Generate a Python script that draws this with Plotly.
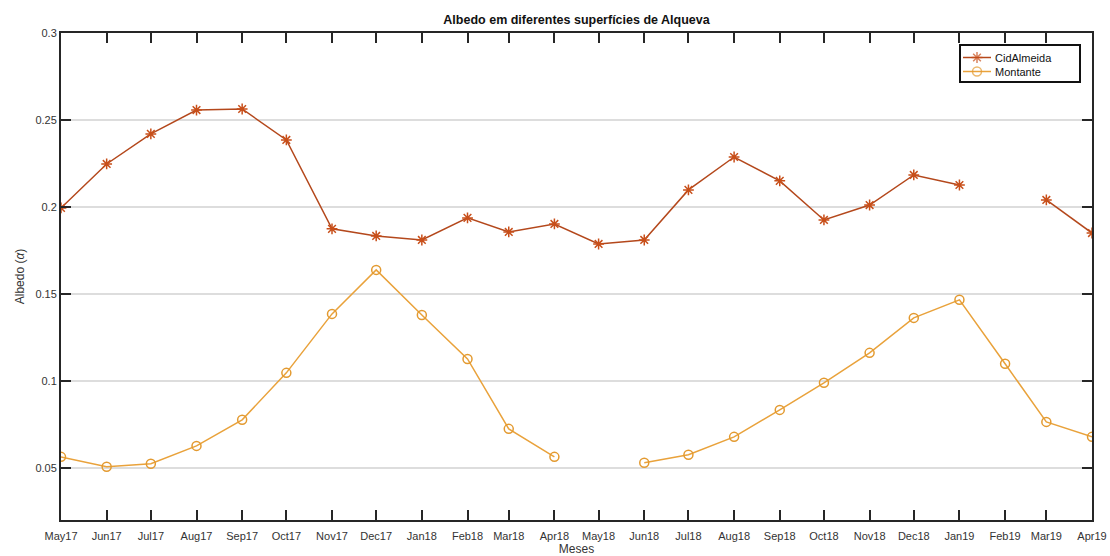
import plotly.graph_objects as go

months = ["2017-05-01", "2017-06-01", "2017-07-01", "2017-08-01", "2017-09-01",
          "2017-10-01", "2017-11-01", "2017-12-01", "2018-01-01", "2018-02-01",
          "2018-03-01", "2018-04-01", "2018-05-01", "2018-06-01", "2018-07-01",
          "2018-08-01", "2018-09-01", "2018-10-01", "2018-11-01", "2018-12-01",
          "2019-01-01", "2019-02-01", "2019-03-01", "2019-04-01"]

cid_almeida = [0.1994, 0.2247, 0.2420, 0.2557, 0.2563, 0.2385, 0.1874, 0.1833,
               0.1810, 0.1937, 0.1856, 0.1902, 0.1787, 0.1810, 0.2098, 0.2287,
               0.2150, 0.1925, 0.2011, 0.2184, 0.2126, None, 0.2040, 0.1850]

montante = [0.0563, 0.0506, 0.0523, 0.0626, 0.0776, 0.1046, 0.1385, 0.1638,
            0.1379, 0.1126, 0.0724, 0.0563, None, 0.0529, 0.0575, 0.0678,
            0.0833, 0.0989, 0.1161, 0.1362, 0.1466, 0.1098, 0.0764, 0.0678]

series_names = ["CidAlmeida", "Montante"]

y_ticks = [0.05, 0.1, 0.15, 0.2, 0.25, 0.3]
y_tick_text = ["0.05", "0.1", "0.15", "0.2", "0.25", "0.3"]

axis_color = "#262626"
font_family = "Liberation Sans, Arial, sans-serif"

styles = [
    dict(line="#B4481C", marker="#C84F1A", symbol="asterisk-open"),
    dict(line="#E9A23B", marker="#E39A30", symbol="circle-open"),
]

fig = go.Figure()
for name, values, st in zip(series_names, [cid_almeida, montante], styles):
    fig.add_trace(go.Scatter(
        x=months, y=values, name=name, mode="lines+markers",
        line=dict(color=st["line"], width=1.5),
        marker=dict(symbol=st["symbol"], size=9, color=st["marker"],
                    line=dict(width=1.5, color=st["marker"])),
        connectgaps=False, showlegend=False,
    ))

# Boxed legend drawn on a hidden pixel-scaled overlay (plot area 61..1092 x 33..520)
box_l, box_r, box_t, box_b = 960, 1080, 45, 82
row_y = [57.5, 71.5]
for name, st, ry in zip(series_names, styles, row_y):
    fig.add_trace(go.Scatter(
        x=[963, 977, 991], y=[ry, ry, ry], xaxis="x2", yaxis="y2",
        mode="lines+markers", showlegend=False, hoverinfo="skip",
        line=dict(color=st["line"], width=1.5),
        marker=dict(symbol=st["symbol"], size=[0, 9, 0], color=st["marker"],
                    line=dict(width=1.5, color=st["marker"])),
    ))
    fig.add_annotation(x=993, y=ry, xref="x2", yref="y2", text=name,
                       showarrow=False, xanchor="left", yanchor="middle",
                       font=dict(size=11, color="#111111"))

fig.add_shape(type="rect", xref="x2", yref="y2", x0=box_l, x1=box_r,
              y0=box_t, y1=box_b, fillcolor="white",
              line=dict(color="#111111", width=2), layer="below")

fig.update_layout(
    width=1110, height=556,
    margin=dict(l=61, r=18, t=33, b=36),
    paper_bgcolor="white", plot_bgcolor="white",
    font=dict(family=font_family, size=11, color="#333333"),
    title=dict(text="<b>Albedo em diferentes superfícies de Alqueva</b>",
               x=(61 + 1092) / 2 / 1110, xanchor="center",
               y=1 - 20 / 556, yanchor="middle",
               font=dict(size=12.5, color="#111111")),
    showlegend=False,
    xaxis=dict(
        type="date", range=["2017-05-01", "2019-04-01"],
        tickmode="array", tickvals=months, tickformat="%b%y",
        ticks="inside", ticklen=10, tickwidth=2, tickcolor=axis_color,
        showline=True, linewidth=2, linecolor=axis_color, mirror="allticks",
        showgrid=False, zeroline=False, automargin=False,
        ticklabelstandoff=5,
        tickfont=dict(size=11, color="#333333"),
        title=dict(text="Meses", standoff=2, font=dict(size=12, color="#333333")),
    ),
    yaxis=dict(
        range=[0.02, 0.3],
        tickmode="array", tickvals=y_ticks, ticktext=y_tick_text,
        ticks="inside", ticklen=10, tickwidth=2, tickcolor=axis_color,
        showline=True, linewidth=2, linecolor=axis_color, mirror="allticks",
        showgrid=True, gridcolor="#DDDDDD", gridwidth=2, zeroline=False,
        automargin=False,
        tickfont=dict(size=11, color="#333333"),
        title=dict(text="Albedo (<i>α</i>)", standoff=8,
                   font=dict(size=12, color="#333333")),
    ),
    xaxis2=dict(overlaying="x", range=[61, 1092], visible=False,
                fixedrange=True, anchor="y2"),
    yaxis2=dict(overlaying="y", range=[520, 33], visible=False,
                fixedrange=True, anchor="x2"),
)

fig.write_html("out.html")
